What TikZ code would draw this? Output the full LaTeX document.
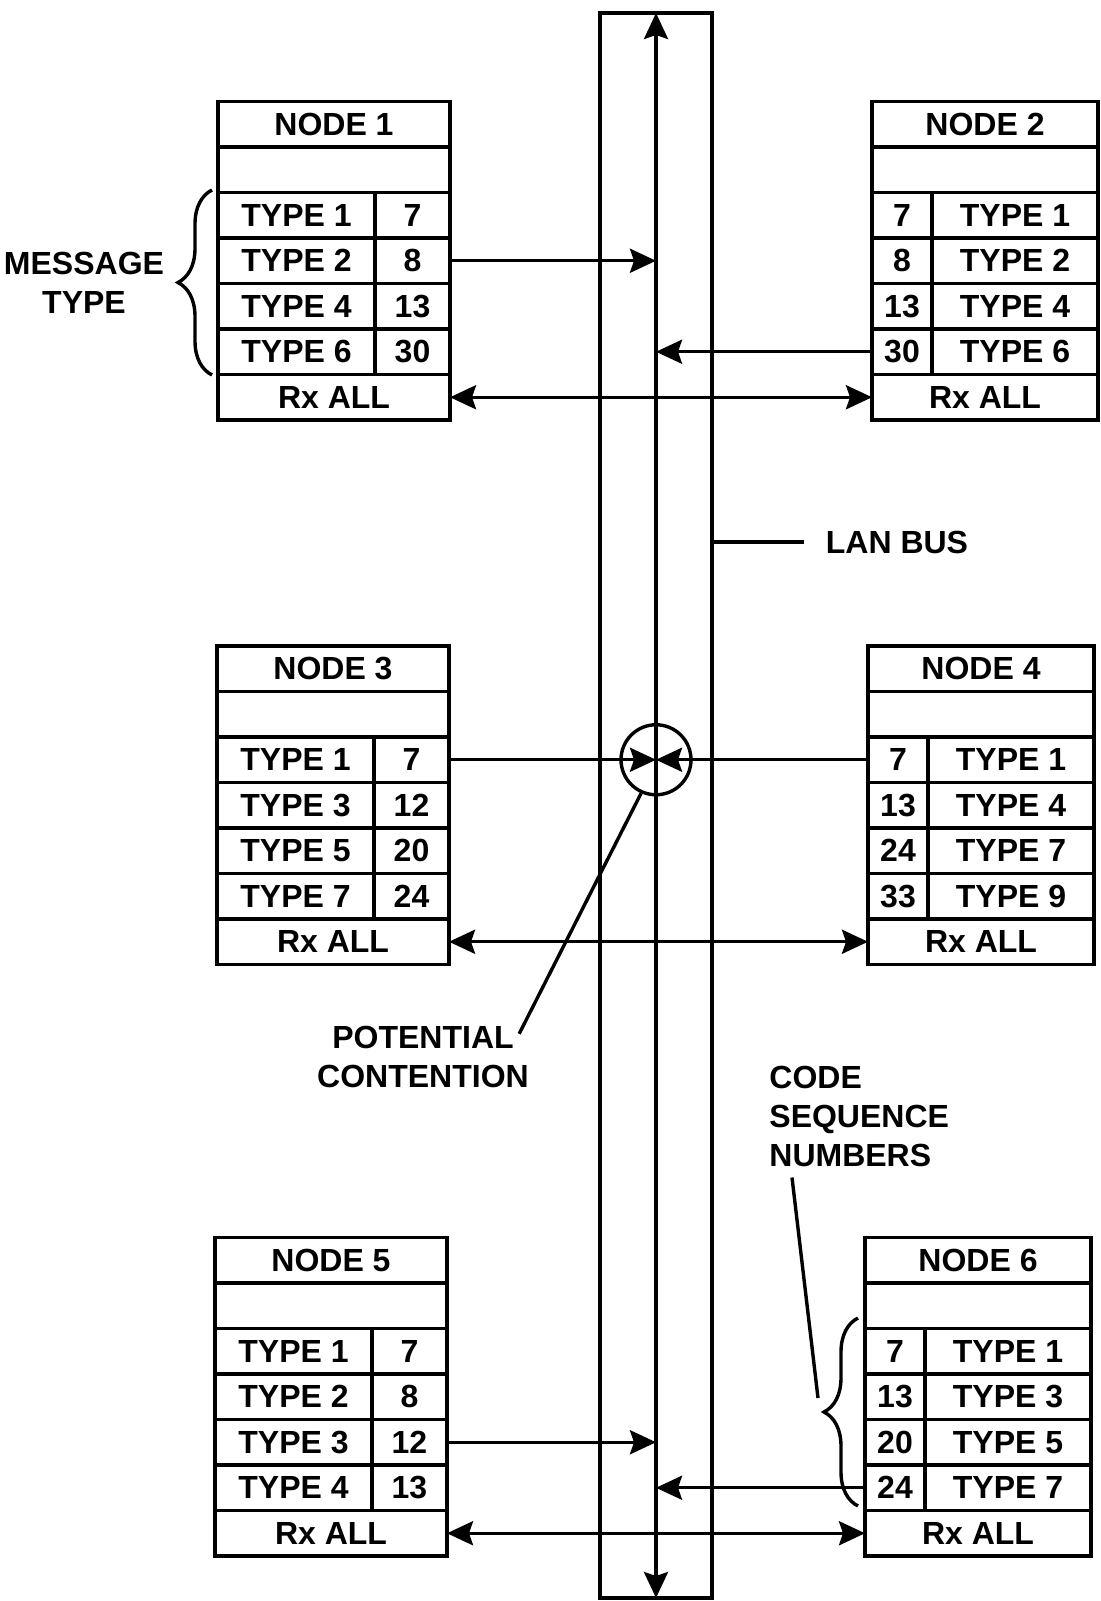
\documentclass[tikz,border=0pt]{standalone}
\usepackage{fontspec}
\setmainfont{Liberation Sans}
\usetikzlibrary{arrows.meta,decorations.pathreplacing}

\tikzset{
    tabcell/.style={draw, line width=1.7pt, anchor=north west, inner sep=0pt, outer sep=0pt,
        minimum height=22.75pt, font=\fontsize{16}{19}\selectfont\bfseries},
    fullL/.style={tabcell, minimum width=116pt},
    typeL/.style={tabcell, minimum width=78.5pt},
    codeL/.style={tabcell, minimum width=37.5pt},
    fullR/.style={tabcell, minimum width=113pt},
    codeR/.style={tabcell, minimum width=30pt},
    typeR/.style={tabcell, minimum width=83pt},
    annot/.style={inner sep=0pt, font=\fontsize{16}{19.5}\selectfont\bfseries},
    wire/.style={line width=1.7pt},
    msg/.style={wire, -{Stealth[length=13pt,width=12pt,inset=2pt]}},
    rxall/.style={wire, {Stealth[length=13pt,width=12pt,inset=2pt]}-{Stealth[length=13pt,width=12pt,inset=2pt]}},
    curly/.style={wire, decorate, decoration={brace, amplitude=17pt}},
}

\begin{document}
\begin{tikzpicture}[x=0.5pt, y=-0.5pt]
        \useasboundingbox (0,0) rectangle (1100,1601);

        \node[draw, wire, minimum width=56pt, minimum height=792.5pt, inner sep=0pt, outer sep=0pt] (bus) at (656,805.5) {};
        \draw[rxall] (bus.north) -- (bus.south);

        \node[fullL] (n1head) at (218,101.5) {NODE 1};
        \node[fullL] (n1gap) at (218,147) {};
        \node[typeL] (n1t1) at (218,192.5) {TYPE 1};
        \node[codeL] (n1c1) at (375,192.5) {7};
        \node[typeL] (n1t2) at (218,238) {TYPE 2};
        \node[codeL] (n1c2) at (375,238) {8};
        \node[typeL] (n1t3) at (218,283.5) {TYPE 4};
        \node[codeL] (n1c3) at (375,283.5) {13};
        \node[typeL] (n1t4) at (218,329) {TYPE 6};
        \node[codeL] (n1c4) at (375,329) {30};
        \node[fullL] (n1rx) at (218,374.5) {Rx ALL};

        \node[fullR] (n2head) at (872,101.5) {NODE 2};
        \node[fullR] (n2gap) at (872,147) {};
        \node[codeR] (n2c1) at (872,192.5) {7};
        \node[typeR] (n2t1) at (932,192.5) {TYPE 1};
        \node[codeR] (n2c2) at (872,238) {8};
        \node[typeR] (n2t2) at (932,238) {TYPE 2};
        \node[codeR] (n2c3) at (872,283.5) {13};
        \node[typeR] (n2t3) at (932,283.5) {TYPE 4};
        \node[codeR] (n2c4) at (872,329) {30};
        \node[typeR] (n2t4) at (932,329) {TYPE 6};
        \node[fullR] (n2rx) at (872,374.5) {Rx ALL};

        \node[fullL] (n3head) at (217,646) {NODE 3};
        \node[fullL] (n3gap) at (217,691.5) {};
        \node[typeL] (n3t1) at (217,737) {TYPE 1};
        \node[codeL] (n3c1) at (374,737) {7};
        \node[typeL] (n3t2) at (217,782.5) {TYPE 3};
        \node[codeL] (n3c2) at (374,782.5) {12};
        \node[typeL] (n3t3) at (217,828) {TYPE 5};
        \node[codeL] (n3c3) at (374,828) {20};
        \node[typeL] (n3t4) at (217,873.5) {TYPE 7};
        \node[codeL] (n3c4) at (374,873.5) {24};
        \node[fullL] (n3rx) at (217,919) {Rx ALL};

        \node[fullR] (n4head) at (868,646) {NODE 4};
        \node[fullR] (n4gap) at (868,691.5) {};
        \node[codeR] (n4c1) at (868,737) {7};
        \node[typeR] (n4t1) at (928,737) {TYPE 1};
        \node[codeR] (n4c2) at (868,782.5) {13};
        \node[typeR] (n4t2) at (928,782.5) {TYPE 4};
        \node[codeR] (n4c3) at (868,828) {24};
        \node[typeR] (n4t3) at (928,828) {TYPE 7};
        \node[codeR] (n4c4) at (868,873.5) {33};
        \node[typeR] (n4t4) at (928,873.5) {TYPE 9};
        \node[fullR] (n4rx) at (868,919) {Rx ALL};

        \node[fullL] (n5head) at (215,1237.5) {NODE 5};
        \node[fullL] (n5gap) at (215,1283) {};
        \node[typeL] (n5t1) at (215,1328.5) {TYPE 1};
        \node[codeL] (n5c1) at (372,1328.5) {7};
        \node[typeL] (n5t2) at (215,1374) {TYPE 2};
        \node[codeL] (n5c2) at (372,1374) {8};
        \node[typeL] (n5t3) at (215,1419.5) {TYPE 3};
        \node[codeL] (n5c3) at (372,1419.5) {12};
        \node[typeL] (n5t4) at (215,1465) {TYPE 4};
        \node[codeL] (n5c4) at (372,1465) {13};
        \node[fullL] (n5rx) at (215,1510.5) {Rx ALL};

        \node[fullR] (n6head) at (865,1237.5) {NODE 6};
        \node[fullR] (n6gap) at (865,1283) {};
        \node[codeR] (n6c1) at (865,1328.5) {7};
        \node[typeR] (n6t1) at (925,1328.5) {TYPE 1};
        \node[codeR] (n6c2) at (865,1374) {13};
        \node[typeR] (n6t2) at (925,1374) {TYPE 3};
        \node[codeR] (n6c3) at (865,1419.5) {20};
        \node[typeR] (n6t3) at (925,1419.5) {TYPE 5};
        \node[codeR] (n6c4) at (865,1465) {24};
        \node[typeR] (n6t4) at (925,1465) {TYPE 7};
        \node[fullR] (n6rx) at (865,1510.5) {Rx ALL};

        \node[draw, wire, circle, minimum size=35pt, inner sep=0pt] (clash) at (n3c1.east -| bus.center) {};

        \draw[msg] (n1c2.east) -- (n1c2.east -| bus.center);
        \draw[msg] (n2c4.west) -- (n2c4.west -| bus.center);
        \draw[rxall] (n1rx.east) -- (n2rx.west);
        \draw[msg] (n3c1.east) -- (clash.center);
        \draw[msg] (n4c1.west) -- (clash.center);
        \draw[rxall] (n3rx.east) -- (n4rx.west);
        \draw[msg] (n5c3.east) -- (n5c3.east -| bus.center);
        \draw[msg] (n6c4.west) -- (n6c4.west -| bus.center);
        \draw[rxall] (n5rx.east) -- (n6rx.west);

        \node[annot, align=center] (msgtype) at (84,283) {MESSAGE\\TYPE};
        \draw[curly] (212,375) -- (212,190);

        \node[annot, inner xsep=11pt] (lan) at (897,542) {LAN BUS};
        \draw[wire] (bus.east |- lan) -- (lan.west);

        \node[annot, align=center] (contention) at (423,1057) {POTENTIAL\\CONTENTION};
        \draw[wire] ([xshift=-5pt,yshift=-4pt]contention.north east) -- (clash.246);

        \node[annot, align=left, anchor=north west] (seqnum) at (769,1066) {CODE\\SEQUENCE\\NUMBERS};
        \draw[curly] (858,1506) -- (858,1318);
        \coordinate (seqtip) at (818,1398);
        \draw[wire] ([xshift=11.5pt,yshift=-5pt]seqnum.south west) -- (seqtip);
\end{tikzpicture}
\end{document}
